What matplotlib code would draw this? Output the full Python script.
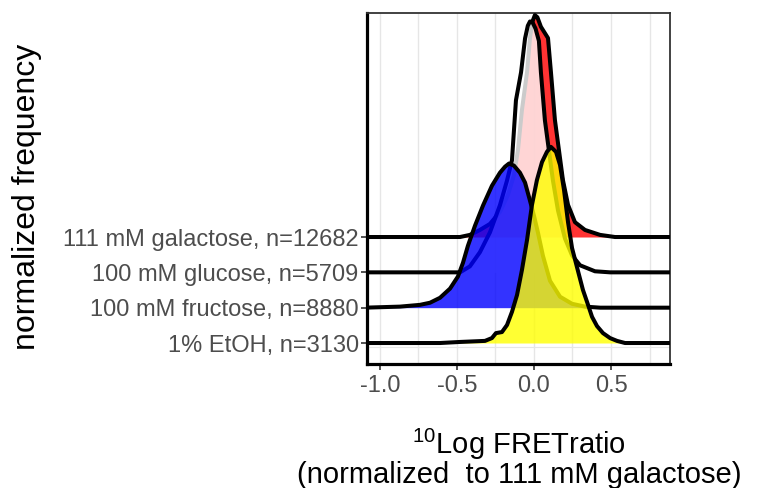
import matplotlib
matplotlib.use("Agg")
import matplotlib.pyplot as plt

plt.rcParams['font.family'] = ['Liberation Sans', 'DejaVu Sans']
plt.rcParams['mathtext.fontset'] = 'custom'
plt.rcParams['mathtext.rm'] = 'Liberation Sans'

# ridge labels, bottom to top
labels = ['1% EtOH, n=3130', '100 mM fructose, n=8880',
          '100 mM glucose, n=5709', '111 mM galactose, n=12682']
fills = ['yellow', 'blue', 'white', 'red']

# density outlines (x = log10 FRET ratio, h = ridge height)
x_gal = [-1.1, -0.48, -0.416, -0.351, -0.286, -0.221, -0.169, -0.13, -0.104, -0.078,
         -0.045, -0.026, -0.01, 0.006, 0.022, 0.045, 0.091, 0.110, 0.136, 0.162,
         0.188, 0.221, 0.266, 0.331, 0.429, 0.526, 0.9]
h_gal = [0, 0, 0.06, 0.2, 0.37, 0.71, 1.19, 1.75, 2.46, 3.6,
         4.67, 5.63, 6.1, 6.28, 6.22, 5.95, 5.63, 4.67, 3.31, 2.46,
         1.61, 0.91, 0.42, 0.2, 0.06, 0, 0]

x_glu = [-1.1, -0.48, -0.416, -0.351, -0.286, -0.221, -0.175, -0.143, -0.117, -0.084,
         -0.058, -0.04, -0.026, -0.01, 0.010, 0.032, 0.045, 0.071, 0.097, 0.123,
         0.156, 0.201, 0.247, 0.299, 0.396, 0.494, 0.9]
h_glu = [0, 0, 0.17, 0.57, 1.13, 1.9, 2.6, 3.17, 4.87, 5.66,
         6.62, 6.98, 7.1, 7.08, 6.9, 6.55, 5.66, 4.30, 3.45, 2.6,
         1.75, 0.96, 0.48, 0.2, 0.03, 0, 0]

x_fru = [-1.1, -0.87, -0.74, -0.675, -0.61, -0.545, -0.494, -0.461, -0.429, -0.383,
         -0.331, -0.273, -0.221, -0.188, -0.162, -0.13, -0.091, -0.058, -0.026, 0.0,
         0.026, 0.058, 0.104, 0.169, 0.247, 0.331, 0.43, 0.9]
h_fru = [0, 0.03, 0.08, 0.14, 0.28, 0.54, 0.88, 1.27, 1.75, 2.32,
         2.89, 3.45, 3.82, 3.99, 4.08, 4.02, 3.82, 3.54, 3.03, 2.6,
         2.12, 1.47, 0.76, 0.31, 0.11, 0.03, 0, 0]

x_eth = [-1.1, -0.61, -0.48, -0.318, -0.273, -0.247, -0.208, -0.175, -0.143, -0.11,
         -0.078, -0.045, -0.013, 0.019, 0.052, 0.084, 0.11, 0.143, 0.169, 0.195,
         0.221, 0.247, 0.279, 0.318, 0.351, 0.377, 0.409, 0.448, 0.494, 0.539,
         0.591, 0.9]
h_eth = [0, 0, 0.03, 0.06, 0.14, 0.28, 0.31, 0.51, 0.88, 1.36,
         2.07, 2.92, 3.91, 4.61, 5.12, 5.41, 5.55, 5.41, 5.04, 4.33,
         3.42, 2.69, 2.15, 1.5, 1.08, 0.74, 0.48, 0.28, 0.14, 0.06,
         0, 0]

series = [(x_eth, h_eth), (x_fru, h_fru), (x_glu, h_glu), (x_gal, h_gal)]
xticks = [-1.0, -0.5, 0.0, 0.5]

fig = plt.figure(figsize=(7.68, 4.88), dpi=100)
ax = fig.add_axes([367/768, 1 - 364/488, 303/768, 351/488])

# top ridge first so lower ridges overlap it
for i in range(len(series) - 1, -1, -1):
    xs, hs = series[i]
    base = i + 1
    top = [base + h for h in hs]
    z = 10 + 2 * (len(series) - i)
    ax.fill_between(xs, base, top, color=fills[i], alpha=0.8, lw=0, zorder=z)
    ax.plot(xs, top, color='black', lw=2.9, solid_joinstyle='round', zorder=z + 1)

ax.set_xlim(-1.084, 0.883)
ax.set_ylim(0.406, 10.34)
ax.set_xticks(xticks)
ax.set_xticklabels(['-1.0', '-0.5', '0.0', '0.5'])
ax.set_xticks([-0.75, -0.25, 0.25, 0.75], minor=True)
ax.set_yticks([1, 2, 3, 4])
ax.set_yticklabels(labels)
ax.grid(axis='x', which='both', color='#E6E6E6', lw=1.0, zorder=0)
ax.axhline(0.887, color='#E6E6E6', lw=0.8, zorder=1)
ax.set_axisbelow(True)

ax.tick_params(axis='both', which='major', labelsize=17, labelcolor='#4D4D4D',
               color='#333333', length=4, width=1.2)
ax.tick_params(axis='x', which='minor', length=0)
ax.tick_params(axis='x', pad=4)
ax.tick_params(axis='y', pad=2)

for side in ['left', 'bottom']:
    ax.spines[side].set_color('black')
    ax.spines[side].set_linewidth(2.3)
for side in ['top', 'right']:
    ax.spines[side].set_color('#333333')
    ax.spines[side].set_linewidth(1.3)

fig.text(27/768, 1 - 197/488, 'normalized frequency', rotation=90,
         ha='center', va='center', fontsize=23)
fig.text(519/768, 1 - 458/488,
         '$\\mathregular{^{10}}$Log FRETratio\n(normalized  to 111 mM galactose)',
         ha='center', va='center', multialignment='center',
         fontsize=21, linespacing=0.95)

fig.savefig('out.png', dpi=100)
